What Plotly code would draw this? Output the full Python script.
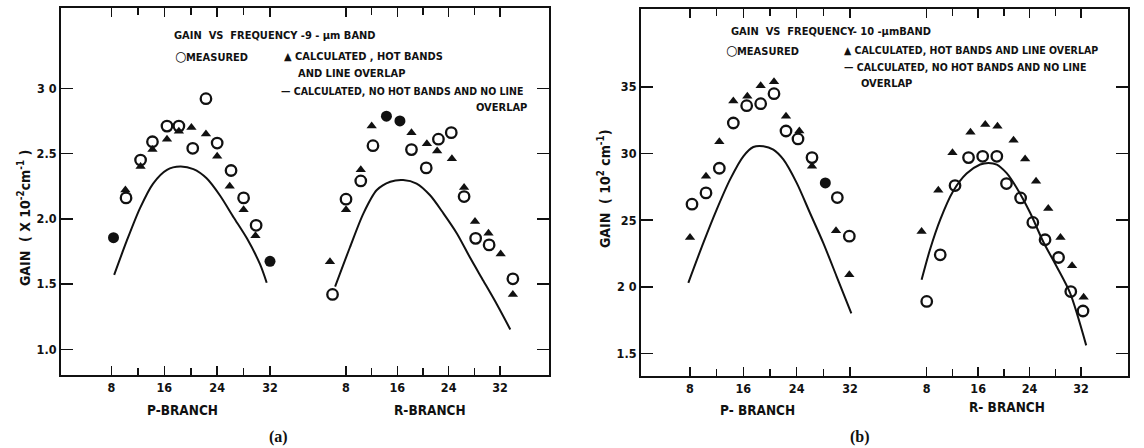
import plotly.graph_objects as go

W, H = 1144, 448

# ---------------- data: panel (a) 9-um band ----------------
a_p_meas_x = [10.2, 12.4, 14.2, 16.4, 18.2, 20.3, 22.3, 24.0, 26.1, 28.0, 29.9]
a_p_meas_y = [2.16, 2.45, 2.59, 2.71, 2.71, 2.54, 2.92, 2.58, 2.37, 2.16, 1.95]
a_p_hot_x = [10.1, 12.4, 14.2, 16.4, 18.2, 20.1, 22.3, 24.0, 25.9, 28.0, 29.8]
a_p_hot_y = [2.22, 2.40, 2.53, 2.61, 2.67, 2.70, 2.65, 2.48, 2.25, 2.07, 1.87]
a_p_both_x = [8.3, 32.0]
a_p_both_y = [1.855, 1.674]
a_p_curve_x = [8.4, 10.3, 12.3, 14.3, 16.4, 18.4, 20.4, 22.4, 24.4, 26.5, 28.5, 30.5, 31.5]
a_p_curve_y = [1.57, 1.83, 2.08, 2.27, 2.375, 2.40, 2.38, 2.31, 2.18, 2.01, 1.85, 1.65, 1.51]

a_r_meas_x = [5.9, 8.0, 10.3, 12.2, 18.2, 20.5, 22.4, 24.4, 26.4, 28.2, 30.3, 34.0]
a_r_meas_y = [1.42, 2.15, 2.29, 2.56, 2.53, 2.39, 2.61, 2.66, 2.17, 1.85, 1.80, 1.54]
a_r_hot_x = [5.5, 8.0, 10.3, 12.0, 18.2, 20.6, 22.2, 24.5, 26.4, 28.1, 30.2, 32.1, 34.0]
a_r_hot_y = [1.67, 2.07, 2.375, 2.71, 2.66, 2.575, 2.52, 2.46, 2.24, 1.98, 1.89, 1.73, 1.42]
a_r_both_x = [14.3, 16.4]
a_r_both_y = [2.786, 2.75]
a_r_curve_x = [6.3, 8.6, 10.7, 12.8, 14.9, 16.9, 19.0, 21.1, 23.2, 25.3, 27.3, 29.4, 31.5, 33.6]
a_r_curve_y = [1.48, 1.78, 2.04, 2.22, 2.284, 2.297, 2.27, 2.18, 2.04, 1.886, 1.705, 1.525, 1.345, 1.152]

# ---------------- data: panel (b) 10-um band ----------------
b_p_meas_x = [8.3, 10.4, 12.4, 14.5, 16.5, 18.6, 20.6, 22.4, 24.2, 26.3, 30.1, 31.9]
b_p_meas_y = [2.62, 2.705, 2.89, 3.23, 3.36, 3.375, 3.45, 3.17, 3.11, 2.97, 2.67, 2.38]
b_p_hot_x = [8.0, 10.4, 12.4, 14.5, 16.6, 18.6, 20.6, 22.4, 24.4, 26.3, 29.9, 31.9]
b_p_hot_y = [2.37, 2.83, 3.09, 3.395, 3.43, 3.51, 3.54, 3.28, 3.17, 2.905, 2.42, 2.09]
b_p_both_x = [28.3]
b_p_both_y = [2.78]
b_p_curve_x = [7.75, 10.0, 12.0, 14.0, 16.0, 17.5, 19.0, 20.5, 22.0, 24.0, 26.0, 28.0, 30.0, 32.2]
b_p_curve_y = [2.03, 2.33, 2.58, 2.805, 2.98, 3.05, 3.056, 3.03, 2.956, 2.78, 2.554, 2.328, 2.077, 1.80]

b_r_meas_x = [8.0, 10.1, 12.4, 14.5, 16.7, 18.9, 20.4, 22.6, 24.5, 26.4, 28.5, 30.4, 32.3]
b_r_meas_y = [1.89, 2.24, 2.76, 2.97, 2.98, 2.98, 2.775, 2.667, 2.483, 2.353, 2.22, 1.964, 1.818]
b_r_hot_x = [7.2, 9.8, 12.0, 14.8, 17.1, 19.0, 21.5, 23.3, 25.0, 26.9, 28.8, 30.6, 32.4]
b_r_hot_y = [2.416, 2.724, 3.006, 3.161, 3.219, 3.206, 3.101, 2.96, 2.792, 2.587, 2.37, 2.157, 1.922]
b_r_curve_x = [7.2, 8.5, 10.1, 12.1, 14.2, 16.3, 17.6, 18.9, 20.4, 22.0, 24.1, 26.1, 28.2, 30.3, 32.8]
b_r_curve_y = [2.052, 2.278, 2.504, 2.717, 2.85, 2.918, 2.93, 2.918, 2.855, 2.742, 2.554, 2.34, 2.152, 1.952, 1.56]

# ---------------- ticks ----------------
x_tickvals = [8, 16, 24, 32]
x_ticktext = ["8", "16", "24", "32"]
x_minor_tickvals = [12, 20, 28]
a_y_tickvals = [1.0, 1.5, 2.0, 2.5, 3.0]
a_y_ticktext = ["1.0", "1.5", "2.0", "2.5", "3 0"]
b_y_tickvals = [1.5, 2.0, 2.5, 3.0, 3.5]
b_y_ticktext = ["1.5", "2 0", "25", "30", "35"]

FONT = "DejaVu Sans Condensed, Liberation Sans Narrow, Arial Narrow, DejaVu Sans, sans-serif"
SERIF = "Liberation Serif, DejaVu Serif, serif"
INK = "#111111"

fig = go.Figure()

def px_x(p):
    return p / W

def px_y(p):
    return 1 - p / H

def add_branch(xa, ya, mx, my, hx, hy, bx, by, cx, cy):
    fig.add_trace(go.Scatter(x=cx, y=cy, mode="lines", line=dict(color=INK, width=2, shape="spline", smoothing=0.8),
                             xaxis=xa, yaxis=ya, showlegend=False, hoverinfo="skip"))
    fig.add_trace(go.Scatter(x=hx, y=hy, mode="markers",
                             marker=dict(symbol="triangle-up", size=9, color=INK, line=dict(width=0)),
                             xaxis=xa, yaxis=ya, showlegend=False))
    fig.add_trace(go.Scatter(x=mx, y=my, mode="markers",
                             marker=dict(symbol="circle-open", size=10.5, color=INK, line=dict(width=2.3)),
                             xaxis=xa, yaxis=ya, showlegend=False))
    if bx:
        fig.add_trace(go.Scatter(x=bx, y=by, mode="markers",
                                 marker=dict(symbol="circle", size=11, color=INK),
                                 xaxis=xa, yaxis=ya, showlegend=False))

add_branch("x", "y", a_p_meas_x, a_p_meas_y, a_p_hot_x, a_p_hot_y, a_p_both_x, a_p_both_y, a_p_curve_x, a_p_curve_y)
add_branch("x2", "y2", a_r_meas_x, a_r_meas_y, a_r_hot_x, a_r_hot_y, a_r_both_x, a_r_both_y, a_r_curve_x, a_r_curve_y)
add_branch("x3", "y3", b_p_meas_x, b_p_meas_y, b_p_hot_x, b_p_hot_y, b_p_both_x, b_p_both_y, b_p_curve_x, b_p_curve_y)
add_branch("x4", "y4", b_r_meas_x, b_r_meas_y, b_r_hot_x, b_r_hot_y, [], [], b_r_curve_x, b_r_curve_y)

tickfont = dict(family=FONT, size=12.5, color=INK, weight="bold")

def xax(dom, rng, anchor):
    return dict(domain=[px_x(dom[0]), px_x(dom[1])], range=rng, anchor=anchor,
                showline=True, linecolor=INK, linewidth=2, mirror="ticks",
                ticks="inside", ticklen=9, tickwidth=1.5, tickcolor=INK,
                tickmode="array", tickvals=x_tickvals, ticktext=x_ticktext, tickfont=tickfont,
                minor=dict(tickmode="array", tickvals=x_minor_tickvals, ticks="inside",
                           ticklen=7, tickwidth=1.5, tickcolor=INK, showgrid=False),
                showgrid=False, zeroline=False, automargin=False, fixedrange=True)

def yax(dom, rng, anchor, side, tv, tt, labels):
    return dict(domain=[px_y(dom[1]), px_y(dom[0])], range=rng, anchor=anchor, side=side,
                showline=True, linecolor=INK, linewidth=2,
                ticks="inside", ticklen=12, tickwidth=1.5, tickcolor=INK,
                tickmode="array", tickvals=tv, ticktext=tt, showticklabels=labels, tickfont=tickfont,
                showgrid=False, zeroline=False, automargin=False, fixedrange=True)

# panel (a): plot area x 61..549, y 8..375
a_top, a_bot = 8, 375
a_yr = [0.803, 3.615]
# panel (b): plot area x 641..1128, y 9..376
b_top, b_bot = 9, 376
b_yr = [1.33, 4.086]

fig.update_layout(
    width=W, height=H, margin=dict(l=0, r=0, t=0, b=0),
    paper_bgcolor="white", plot_bgcolor="rgba(0,0,0,0)",
    showlegend=False,
    xaxis=xax((61, 305), [0.35, 37.3], "y"),
    xaxis2=xax((305, 549), [1.61, 39.63], "y2"),
    xaxis3=xax((641, 885), [0.65, 37.25], "y3"),
    xaxis4=xax((885, 1128), [1.51, 39.3], "y4"),
    yaxis=yax((a_top, a_bot), a_yr, "x", "left", a_y_tickvals, a_y_ticktext, True),
    yaxis2=yax((a_top, a_bot), a_yr, "x2", "right", a_y_tickvals, a_y_ticktext, False),
    yaxis3=yax((b_top, b_bot), b_yr, "x3", "left", b_y_tickvals, b_y_ticktext, True),
    yaxis4=yax((b_top, b_bot), b_yr, "x4", "right", b_y_tickvals, b_y_ticktext, False),
)

def note(text, x, y, anchor="left", size=11, family=FONT, angle=0, yanchor="middle"):
    fig.add_annotation(text=text, x=px_x(x), y=px_y(y), xref="paper", yref="paper",
                       xanchor=anchor, yanchor=yanchor, showarrow=False, textangle=angle,
                       borderpad=0,
                       font=dict(family=family, size=size, color=INK, weight="bold"))

CIRC = "<span style='font-size:14px'>○</span>"

# legend (a)
note("GAIN  VS  FREQUENCY -9 - μm BAND", 173, 35)
note(CIRC + "MEASURED", 174, 56)
note("▲ CALCULATED , HOT BANDS", 283, 56)
note("AND LINE OVERLAP", 297, 73)
note("— CALCULATED, NO HOT BANDS AND NO LINE", 280, 91, size=10.5)
note("OVERLAP", 528, 107, anchor="right")

# legend (b)
note("GAIN  VS  FREQUENCY- 10 -μmBAND", 730, 32)
note(CIRC + "MEASURED", 725, 50)
note("▲ CALCULATED, HOT BANDS AND LINE OVERLAP", 843, 50, size=10.5)
note("— CALCULATED, NO HOT BANDS AND NO LINE", 843, 67, size=10.5)
note("OVERLAP", 860, 83)

# axis titles
note("GAIN  ( X 10<sup>-2</sup>cm<sup>-1</sup> )", 24, 218, anchor="center", size=14, angle=-90)
note("GAIN  ( 10<sup>2</sup> cm<sup>-1</sup>)", 604, 189, anchor="center", size=14, angle=-90)
note("P-BRANCH", 182, 410, anchor="center", size=13.5)
note("R-BRANCH", 430, 410, anchor="center", size=13.5)
note("P- BRANCH", 757, 410, anchor="center", size=13.5)
note("R- BRANCH", 1007, 407, anchor="center", size=13.5)

# panel labels
note("(a)", 278, 437, anchor="center", size=16, family=SERIF)
note("(b)", 860, 437, anchor="center", size=16, family=SERIF)

fig.write_html("out.html", config={"displayModeBar": False, "staticPlot": True},
               post_script="document.body.style.margin='0';document.body.style.overflow='hidden';")
